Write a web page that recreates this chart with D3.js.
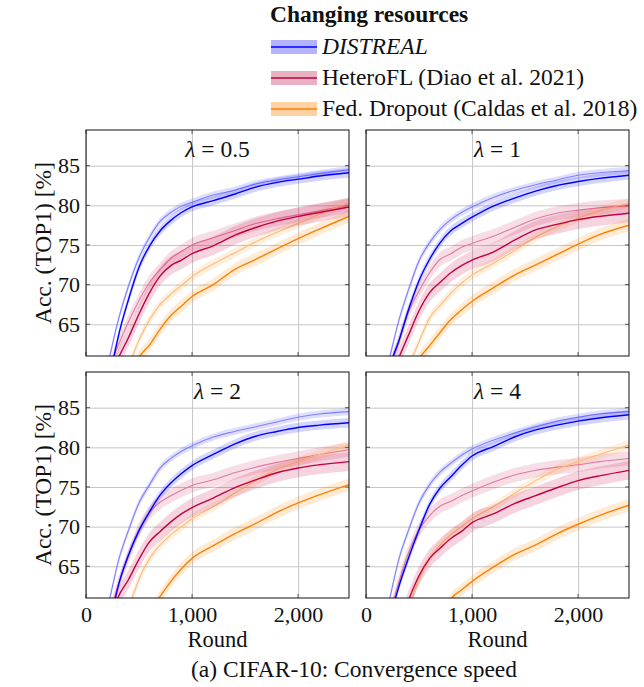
<!DOCTYPE html>
<html>
<head>
<meta charset="utf-8">
<title>CIFAR-10: Convergence speed</title>
<style>
body { margin: 0; background: #fff; }
svg { display: block; font-family: "Liberation Serif", "Times New Roman", serif; }
</style>
</head>
<body>
<svg></svg>
<script src="https://d3js.org/d3.v7.min.js"></script>
<script>
const rounds = [200, 250, 300, 400, 500, 600, 700, 800, 900, 1000, 1200, 1400, 1600, 1800, 2000, 2200, 2480];
const xTicks = [0, 1000, 2000];
const yTicks = [65, 70, 75, 80, 85];
const lambdas = ['0.5', '1', '2', '4'];
const methods = ['DISTREAL', 'HeteroFL (Diao et al. 2021)', 'Fed. Dropout (Caldas et al. 2018)'];
// half width of the shaded band, per method
const spread = [0.45, 0.9, 0.6];

// lambda = 0.5
const dsLight1 = [59.5, 62.5, 65.3, 69.8, 73.4, 76.0, 78.0, 79.1, 79.9, 80.4, 81.3, 81.9, 82.7, 83.2, 83.6, 84.0, 84.5];
const dsDark1  = [56, 60, 63.2, 68.1, 72.2, 74.9, 76.8, 78.1, 79.1, 79.8, 80.6, 81.4, 82.3, 82.9, 83.3, 83.7, 84.1];
const hfLight1 = [58.5, 60.5, 62.2, 65.3, 68.0, 70.3, 71.9, 73.3, 74.2, 75.0, 75.9, 76.8, 77.7, 78.3, 78.8, 79.3, 80.0];
const hfDark1  = [57, 59, 60.6, 63.3, 66.3, 69.0, 71.1, 72.4, 73.1, 73.9, 74.9, 76.2, 77.2, 78.0, 78.6, 79.1, 79.8];
const fdLight1 = [50, 53, 55, 59.5, 63.0, 65.6, 67.5, 68.8, 69.9, 71.0, 72.6, 74.0, 75.4, 76.6, 77.7, 78.9, 80.3];
const fdDark1  = [48, 51, 54, 57.5, 60.8, 62.4, 64.4, 66.1, 67.3, 68.5, 70.0, 71.9, 73.2, 74.5, 75.8, 77.0, 78.6];
// lambda = 1
const dsLight2 = [59.5, 62.3, 65.0, 69.3, 73.0, 75.3, 77.0, 78.2, 79.1, 79.8, 81.0, 81.9, 82.6, 83.2, 83.8, 84.1, 84.4];
const dsDark2  = [57.5, 60.7, 62.5, 66.8, 70.5, 73.2, 75.3, 76.8, 77.7, 78.5, 79.9, 80.9, 81.8, 82.5, 83.0, 83.4, 83.8];
const hfLight2 = [58, 60.3, 62.5, 66.5, 69.2, 71.5, 73.2, 73.9, 74.7, 75.2, 76.1, 77.2, 78.3, 79.0, 79.4, 79.7, 79.9];
const hfDark2  = [57, 59, 60.5, 63.6, 66.7, 69.0, 70.3, 71.5, 72.4, 73.1, 74.1, 75.6, 76.9, 77.6, 78.2, 78.6, 79.0];
const fdLight2 = [50, 53, 55, 59.5, 62.8, 65.8, 67.4, 68.9, 70.2, 71.2, 72.7, 74.3, 76.0, 77.3, 78.4, 79.3, 80.3];
const fdDark2  = [48, 51, 54, 57.5, 60.6, 62.3, 64.0, 65.6, 66.8, 67.9, 69.6, 71.2, 72.5, 73.8, 75.1, 76.3, 77.5];
// lambda = 2
const dsLight3 = [59.5, 62.5, 65.4, 69.5, 73.0, 75.3, 77.4, 78.6, 79.5, 80.2, 81.3, 82.0, 82.6, 83.2, 83.8, 84.2, 84.5];
const dsDark3  = [56, 59.3, 62.3, 66.4, 69.5, 71.9, 74.0, 75.5, 76.7, 77.7, 79.1, 80.4, 81.4, 82.0, 82.5, 82.8, 83.1];
const hfLight3 = [58, 60.3, 62.5, 66.3, 69.6, 71.8, 73.1, 73.9, 74.6, 75.2, 75.9, 76.8, 77.5, 78.1, 78.6, 79.1, 79.7];
const hfDark3  = [56.5, 59, 61, 63.3, 65.9, 68.1, 69.4, 70.6, 71.6, 72.4, 73.6, 74.9, 75.9, 76.8, 77.4, 77.8, 78.2];
const fdLight3 = [50, 53, 55, 59.5, 63.4, 66.0, 67.7, 69.0, 70.0, 71.0, 72.5, 74.2, 75.8, 77.2, 78.2, 79.1, 80.3];
const fdDark3  = [45, 48, 50, 53.5, 56.5, 59, 61.2, 63.1, 64.7, 66.0, 67.6, 69.1, 70.4, 71.8, 73.0, 74.0, 75.3];
// lambda = 4
const dsLight4 = [59.5, 62.5, 65.4, 69.5, 73.0, 75.3, 76.9, 78.0, 79.0, 79.8, 80.9, 81.8, 82.6, 83.3, 83.8, 84.2, 84.5];
const dsDark4  = [56, 59.5, 62.0, 66.0, 69.6, 72.8, 74.9, 76.3, 77.7, 78.9, 80.1, 81.3, 82.2, 82.8, 83.3, 83.7, 84.1];
const hfLight4 = [58, 60.3, 62.6, 66.7, 69.6, 71.4, 72.6, 73.2, 73.9, 74.5, 75.6, 76.5, 77.1, 77.5, 77.8, 78.2, 78.6];
const hfDark4  = [52, 55, 57, 60.7, 63.8, 66.0, 67.3, 68.5, 69.4, 70.5, 71.6, 72.9, 73.9, 74.9, 75.8, 76.4, 77.1];
const fdLight4 = [50, 53, 55, 59.5, 63.4, 66.0, 67.7, 69.0, 70.0, 71.0, 72.5, 74.2, 75.8, 77.2, 78.2, 79.1, 80.3];
const fdDark4  = [40, 43, 45, 49, 52, 54.5, 57.5, 60.8, 62.0, 63.1, 64.9, 66.5, 67.7, 69.1, 70.3, 71.4, 72.7];

const panelData = [
  { light: [dsLight1, hfLight1, fdLight1], dark: [dsDark1, hfDark1, fdDark1] },
  { light: [dsLight2, hfLight2, fdLight2], dark: [dsDark2, hfDark2, fdDark2] },
  { light: [dsLight3, hfLight3, fdLight3], dark: [dsDark3, hfDark3, fdDark3] },
  { light: [dsLight4, hfLight4, fdLight4], dark: [dsDark4, hfDark4, fdDark4] }
];

const darkCol  = ['#0000ff', '#c4003f', '#ff8000'];
const lightCol = ['#8080ff', '#e07a9c', '#ffbb77'];
const bandCol  = ['#0000ff', '#c4003f', '#ff8000'];
const swatchCol = ['#b3b3ff', '#e8b2c3', '#ffd2a5'];

const W = 263, H = 226;
const origins = [[86, 130], [366, 130], [86, 372], [366, 372]];
const fs = '23.5px';
const tickFs = '22px';

const svg = d3.select('svg').attr('width', 644).attr('height', 687);

const x = d3.scaleLinear([0, 2480], [0, W]);
const y = d3.scaleLinear([61, 89.5], [H, 0]);

const line = d3.line().x((d, i) => x(rounds[i])).y(d => y(d)).curve(d3.curveMonotoneX);
const band = s => d3.area().x((d, i) => x(rounds[i])).y0(d => y(d - s)).y1(d => y(d + s)).curve(d3.curveMonotoneX);

panelData.forEach((p, k) => {
  const [ox, oy] = origins[k];
  const g = svg.append('g').attr('transform', `translate(${ox},${oy})`);
  const showY = k % 2 === 0, showX = k >= 2;

  g.append('clipPath').attr('id', 'clip' + k)
    .append('rect').attr('width', W).attr('height', H);

  // grid + tick labels
  const gy = g.append('g')
    .call(d3.axisLeft(y).tickValues(yTicks).tickSize(-W).tickPadding(6)
      .tickFormat(showY ? d3.format('d') : ''));
  const gx = g.append('g').attr('transform', `translate(0,${H})`)
    .call(d3.axisBottom(x).tickValues(xTicks).tickSize(-H).tickPadding(8)
      .tickFormat(showX ? d3.format(',') : ''));
  [gx, gy].forEach(a => {
    a.attr('font-family', null).attr('font-size', tickFs);
    a.select('.domain').remove();
    a.selectAll('.tick line').attr('stroke', '#c6c6c6');
    a.selectAll('.tick text').attr('fill', '#111');
  });

  // small inner tick marks on every side
  const tk = g.append('g').attr('stroke', '#555');
  yTicks.forEach(v => {
    tk.append('line').attr('x1', 0).attr('x2', 4).attr('y1', y(v)).attr('y2', y(v));
    tk.append('line').attr('x1', W - 4).attr('x2', W).attr('y1', y(v)).attr('y2', y(v));
  });
  xTicks.forEach(v => {
    tk.append('line').attr('x1', x(v)).attr('x2', x(v)).attr('y1', 0).attr('y2', 4);
    tk.append('line').attr('x1', x(v)).attr('x2', x(v)).attr('y1', H - 4).attr('y2', H);
  });

  const plot = g.append('g').attr('clip-path', `url(#clip${k})`);
  ['light', 'dark'].forEach(kind => {
    p[kind].forEach((vals, m) => {
      const s = kind === 'dark' ? spread[m] * 1.3 : spread[m];
      plot.append('path')
        .attr('d', band(s)(vals))
        .attr('fill', bandCol[m])
        .attr('fill-opacity', kind === 'dark' ? 0.17 : 0.13);
      plot.append('path')
        .attr('d', line(vals))
        .attr('fill', 'none')
        .attr('stroke', kind === 'dark' ? darkCol[m] : lightCol[m])
        .attr('stroke-width', kind === 'dark' ? 1.4 : 1.1);
    });
  });

  g.append('rect').attr('width', W).attr('height', H)
    .attr('fill', 'none').attr('stroke', '#111').attr('stroke-width', 1);

  const t = g.append('text').attr('x', W / 2).attr('y', 27)
    .attr('text-anchor', 'middle').attr('font-size', fs).attr('fill', '#111');
  t.append('tspan').attr('font-style', 'italic').text('λ');
  t.append('tspan').text(' = ' + lambdas[k]);

  if (showY) {
    svg.append('text')
      .attr('transform', `translate(43,${oy + H / 2}) rotate(-90)`)
      .attr('text-anchor', 'middle').attr('dy', '0.35em')
      .attr('font-size', fs).attr('fill', '#111')
      .text('Acc. (TOP1) [%]');
  }
  if (showX) {
    svg.append('text')
      .attr('x', ox + W / 2).attr('y', 647)
      .attr('text-anchor', 'middle')
      .attr('font-size', '22.5px').attr('fill', '#111')
      .text('Round');
  }
});

// legend
const lg = svg.append('g');
lg.append('text').attr('x', 270).attr('y', 22)
  .attr('font-size', fs).attr('font-weight', 'bold').attr('fill', '#111')
  .text('Changing resources');
methods.forEach((name, m) => {
  const cy = 47 + m * 31;
  lg.append('rect').attr('x', 271).attr('y', cy - 7).attr('width', 46).attr('height', 14)
    .attr('fill', swatchCol[m]);
  lg.append('line').attr('x1', 271).attr('x2', 317).attr('y1', cy).attr('y2', cy)
    .attr('stroke', darkCol[m]).attr('stroke-width', 1.3);
  lg.append('text').attr('x', 322).attr('y', cy + 7)
    .attr('font-size', fs).attr('fill', '#111')
    .attr('font-style', m === 0 ? 'italic' : null)
    .text(name);
});

svg.append('text').attr('x', 354).attr('y', 677)
  .attr('text-anchor', 'middle').attr('font-size', fs).attr('fill', '#111')
  .text('(a) CIFAR-10: Convergence speed');
</script>
</body>
</html>
